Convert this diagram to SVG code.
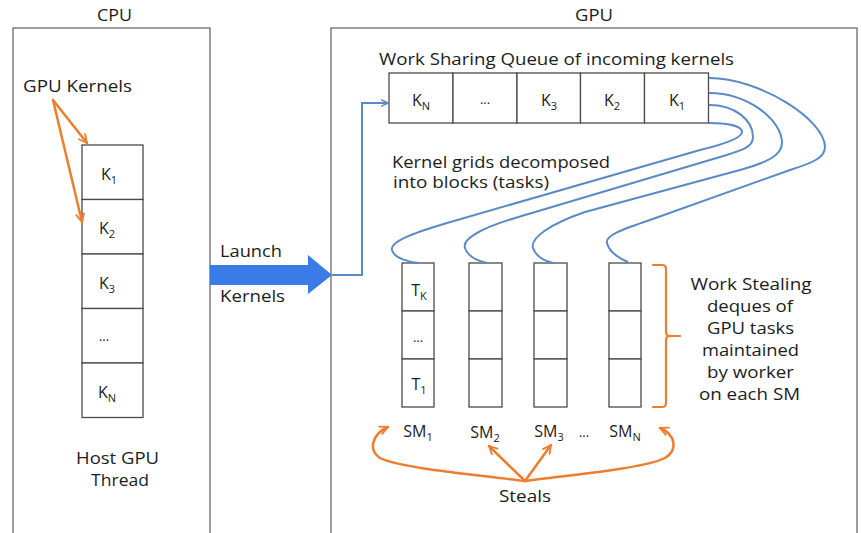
<svg xmlns="http://www.w3.org/2000/svg" width="861" height="533" viewBox="0 0 861 533">
<style>
  text { font-family: "Open Sans", "Noto Sans", "Liberation Sans", sans-serif; font-size: 16px; fill: #1c1c1c; }
  .sub { font-size: 11px; }
  .frame { fill: #ffffff; stroke: #6a6a6a; stroke-width: 1.3; }
  .cell { fill: #ffffff; stroke: #4a4a4a; stroke-width: 1.3; }
  .blue { fill: none; stroke: #5a8ac6; stroke-width: 2; }
  .orange { fill: none; stroke: #ee7d2e; stroke-width: 2.5; stroke-linecap: round; stroke-linejoin: round; }
  .mid { text-anchor: middle; }
</style>
<defs>
  <marker id="oarrow" viewBox="0 0 10 10" refX="9" refY="5" markerWidth="4" markerHeight="4" orient="auto" markerUnits="strokeWidth">
    <path d="M1,1 L9,5 L1,9" fill="none" stroke="#ee7d2e" stroke-width="1.8" stroke-linecap="round" stroke-linejoin="round"/>
  </marker>
  <marker id="barrow" viewBox="0 0 10 10" refX="9" refY="5" markerWidth="4" markerHeight="4" orient="auto" markerUnits="strokeWidth">
    <path d="M1,1 L9,5 L1,9" fill="none" stroke="#5a8ac6" stroke-width="1.8" stroke-linecap="round" stroke-linejoin="round"/>
  </marker>
</defs>
<rect width="861" height="533" fill="#ffffff"/>

<g id="cpu">
  <rect class="frame" x="13" y="28" width="197" height="520"/>
  <text class="mid" x="114.5" y="21" textLength="35" lengthAdjust="spacingAndGlyphs">CPU</text>
  <text x="23" y="92" textLength="109" lengthAdjust="spacingAndGlyphs">GPU Kernels</text>
  <text class="mid" x="117.5" y="464" textLength="83" lengthAdjust="spacingAndGlyphs">Host GPU</text>
  <text class="mid" x="120" y="486" textLength="58" lengthAdjust="spacingAndGlyphs">Thread</text>
</g>

<g id="cpu-stack">
  <rect class="cell" x="82" y="145" width="61" height="54.5"/>
  <rect class="cell" x="82" y="199.5" width="61" height="54.5"/>
  <rect class="cell" x="82" y="254" width="61" height="54.5"/>
  <rect class="cell" x="82" y="308.5" width="61" height="54.5"/>
  <rect class="cell" x="82" y="363" width="61" height="54.5"/>
  <text class="mid" x="109" y="180">K<tspan class="sub" dy="4">1</tspan></text>
  <text class="mid" x="107" y="234">K<tspan class="sub" dy="4">2</tspan></text>
  <text class="mid" x="107" y="289">K<tspan class="sub" dy="4">3</tspan></text>
  <text class="mid" x="104" y="341" style="font-size:13px">...</text>
  <text class="mid" x="107" y="398">K<tspan class="sub" dy="4">N</tspan></text>
</g>

<g id="launch">
  <polygon points="210,265 308,265 308,255 332,275 308,294 308,285 210,285" fill="#3a7be8"/>
  <text x="220" y="257" textLength="62" lengthAdjust="spacingAndGlyphs">Launch</text>
  <text x="220" y="302" textLength="65" lengthAdjust="spacingAndGlyphs">Kernels</text>
</g>

<g id="gpu">
  <rect class="frame" x="331" y="28" width="526" height="520"/>
  <text class="mid" x="594" y="21" textLength="38" lengthAdjust="spacingAndGlyphs">GPU</text>
  <text x="379" y="65" textLength="355" lengthAdjust="spacingAndGlyphs">Work Sharing Queue of incoming kernels</text>
  <text x="392" y="168" textLength="218" lengthAdjust="spacingAndGlyphs">Kernel grids decomposed</text>
  <text x="393" y="188" textLength="156" lengthAdjust="spacingAndGlyphs">into blocks (tasks)</text>
</g>

<g id="queue">
  <rect class="cell" x="389" y="73" width="64" height="50"/>
  <rect class="cell" x="453" y="73" width="64" height="50"/>
  <rect class="cell" x="517" y="73" width="63.5" height="50"/>
  <rect class="cell" x="580.5" y="73" width="64" height="50"/>
  <rect class="cell" x="644.5" y="73" width="64" height="50"/>
  <text class="mid" x="421" y="106">K<tspan class="sub" dy="4">N</tspan></text>
  <text class="mid" x="485" y="104" style="font-size:13px">...</text>
  <text class="mid" x="549" y="106">K<tspan class="sub" dy="4">3</tspan></text>
  <text class="mid" x="612" y="106">K<tspan class="sub" dy="4">2</tspan></text>
  <text class="mid" x="677" y="106">K<tspan class="sub" dy="4">1</tspan></text>
</g>

<g id="sm1">
  <rect class="cell" x="402" y="263" width="32" height="48"/>
  <rect class="cell" x="402" y="311" width="32" height="48"/>
  <rect class="cell" x="402" y="359" width="32" height="48"/>
  <text class="mid" x="419" y="296">T<tspan class="sub" dy="4">K</tspan></text>
  <text class="mid" x="418" y="342" style="font-size:13px">...</text>
  <text class="mid" x="419" y="390">T<tspan class="sub" dy="4">1</tspan></text>
  <text class="mid" x="418" y="437">SM<tspan class="sub" dy="4">1</tspan></text>
</g>
<g id="sm2">
  <rect class="cell" x="469" y="263" width="33" height="48"/>
  <rect class="cell" x="469" y="311" width="33" height="48"/>
  <rect class="cell" x="469" y="359" width="33" height="48"/>
  <text class="mid" x="485" y="438">SM<tspan class="sub" dy="4">2</tspan></text>
</g>
<g id="sm3">
  <rect class="cell" x="534" y="263" width="33" height="48"/>
  <rect class="cell" x="534" y="311" width="33" height="48"/>
  <rect class="cell" x="534" y="359" width="33" height="48"/>
  <text class="mid" x="549" y="437">SM<tspan class="sub" dy="4">3</tspan></text>
  <text class="mid" x="584" y="437" style="font-size:13px">...</text>
</g>
<g id="sm4">
  <rect class="cell" x="609" y="263" width="32" height="48"/>
  <rect class="cell" x="609" y="311" width="32" height="48"/>
  <rect class="cell" x="609" y="359" width="32" height="48"/>
  <text class="mid" x="625" y="437">SM<tspan class="sub" dy="4">N</tspan></text>
</g>

<g id="deque-label">
  <path class="orange" d="M653,265 L662,265 Q666,265 666,269 L666,332 Q666,336 670,336 L680,336 M670,336 Q666,336 666,340 L666,403 Q666,407 662,407 L653,407" style="stroke-width:2.2"/>
  <text class="mid" x="751" y="290" textLength="121" lengthAdjust="spacingAndGlyphs">Work Stealing</text>
  <text class="mid" x="750" y="312" textLength="86" lengthAdjust="spacingAndGlyphs">deques of</text>
  <text class="mid" x="750.5" y="334" textLength="87" lengthAdjust="spacingAndGlyphs">GPU tasks</text>
  <text class="mid" x="750.5" y="356" textLength="97" lengthAdjust="spacingAndGlyphs">maintained</text>
  <text class="mid" x="750.5" y="378" textLength="87" lengthAdjust="spacingAndGlyphs">by worker</text>
  <text class="mid" x="749.5" y="400" textLength="101" lengthAdjust="spacingAndGlyphs">on each SM</text>
  <text class="mid" x="525" y="502" textLength="52" lengthAdjust="spacingAndGlyphs">Steals</text>
</g>

<g id="connectors">
  <path class="blue" d="M332,275 L362,275 L362,103 L388,103" marker-end="url(#barrow)"/>
  <path class="blue" d="M709,123 C728,123 742,126 742,132 C742,138 725,144 700,150 L447,223 C410,234 390,242 392,250 C394,258 408,262 419,263"/>
  <path class="blue" d="M709,105 C735,105 753,120 753,137 C753,148 740,151 720,157 L515,218 C478,229 462,240 465,248 C468,257 478,261 487,263"/>
  <path class="blue" d="M709,93 C748,93 782,120 782,143 C782,156 765,163 740,170 L585,212 C550,224 530,238 533,248 C536,257 545,261 553,263"/>
  <path class="blue" d="M709,78 C760,78 825,120 825,147 C825,158 812,163 790,170 L650,220 C620,230 605,236 607,243 C609,252 620,259 628,262"/>
  <path class="orange" d="M53,100 L87,143" marker-end="url(#oarrow)"/>
  <path class="orange" d="M53,100 L82,222" marker-end="url(#oarrow)"/>
  <path class="orange" d="M525,481 C470,474 400,468 380,458 C368,450 372,434 388,427" marker-end="url(#oarrow)"/>
  <path class="orange" d="M525,481 C580,474 645,468 665,458 C678,450 676,435 660,428" marker-end="url(#oarrow)"/>
  <path class="orange" d="M525,481 L489,446" marker-end="url(#oarrow)"/>
  <path class="orange" d="M525,481 L551,445" marker-end="url(#oarrow)"/>
</g>
</svg>
